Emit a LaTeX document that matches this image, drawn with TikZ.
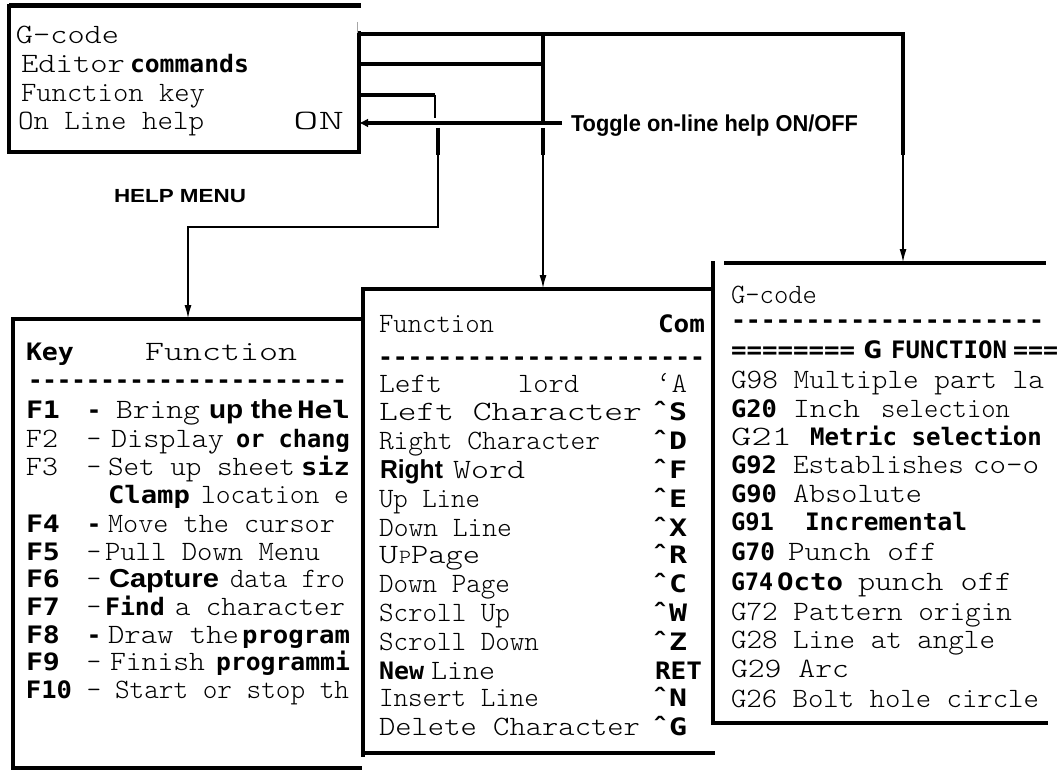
\documentclass[tikz,border=0pt]{standalone}
\usepackage{fontspec}
\usepackage{graphicx}
\usetikzlibrary{arrows.meta}
\newfontfamily\ltfam{lmmonolt10-regular.otf}
\newfontfamily\bmfam{DejaVu Sans Mono}
\newfontfamily\bsfam{Liberation Sans}
\newcommand\Ls{\ltfam\fontsize{28}{30}\selectfont}
\newcommand\Lsm{\ltfam\fontsize{20}{22}\selectfont}
\newcommand\Bm{\bmfam\bfseries\fontsize{24}{28}\selectfont}
\newcommand\Bs{\bsfam\bfseries\fontsize{26}{28}\selectfont}
\newcount\dcnt
\newcommand\dashes[1]{\dcnt=0 \loop\ifnum\dcnt<#1 -\kern0pt\advance\dcnt by 1 \repeat}
\newcommand\frag[5]{\node[t] (#1) at (#2,#3) {\resizebox{#4pt}{\height}{#5}};}
\newcommand\cmd{ˆ}
\tikzset{
  t/.style={anchor=base west, inner sep=0pt, outer sep=0pt},
  region/.style={anchor=north west, inner sep=0pt, outer sep=0pt, draw=none},
  edge/.style={line width=4pt, line cap=rect},
  conn/.style={line width=4.5pt},
  lead/.style={line width=2pt},
  arr/.style={-{Latex[length=14pt,width=7pt]}},
  arrL/.style={-{Latex[length=9pt,width=9pt]}},
}
\begin{document}
\begin{tikzpicture}[x=1pt,y=-1pt]
\useasboundingbox (0,0) rectangle (1059,770);
\fill[white] (0,0) rectangle (1059,770);

% ---------- boxes (regions) ----------
\node[region, minimum width=350pt, minimum height=146pt] (help) at (9,6) {};
\node[region, minimum width=349pt, minimum height=449pt] (keys) at (13,319) {};
\node[region, minimum width=350pt, minimum height=464pt] (edit) at (363,289) {};
\node[region, minimum width=333pt, minimum height=460pt] (gcode) at (713,263) {};

% help menu frame
\draw[line width=5pt] (help.north west) -- ([xshift=2pt]help.north east);
\draw[edge] (help.north west) -- (help.south west) -- (help.south east) -- (help.east |- 0,33);
\draw[gray!70, line width=1pt] (357,22) -- (357,33);

% key box frame
\draw[edge] (keys.north east) -- (keys.north west) -- (keys.south west |- 0,770);
\draw[edge] (keys.south west) -- ([xshift=-2pt]keys.south east);

% editor box frame
\draw[edge] (edit.north east) -- (edit.north west) -- ([yshift=-2pt]edit.south west);
\draw[edge] (edit.south west) -- (edit.south east);

% g-code box frame
\draw[line width=3.5pt] ([xshift=11pt]gcode.north west) -- (gcode.north east);
\draw[edge] (gcode.north west) -- (gcode.south west) -- (gcode.south east);

% ---------- connectors ----------
\coordinate (a1) at (903,34);
\coordinate (a2) at (903,155);
\draw[conn] (help.east |- a1) -- (a1) -- (a2);
\draw[lead, arr] (a2) -- (gcode.north -| a2);

\coordinate (b0) at (543,34);
\coordinate (bm) at (543,64);
\coordinate (b1) at (543,121);
\coordinate (b2) at (543,128);
\coordinate (b3) at (543,155);
\draw[conn] (help.east |- bm) -- (bm);
\draw[conn] (b0) -- (b1);
\draw[conn] (b2) -- (b3);
\draw[lead, arr] (b3) -- (edit.north -| b3);

\coordinate (c0) at (435,95);
\coordinate (c1) at (435,118);
\coordinate (c2) at (438,128);
\coordinate (c3) at (438,155);
\coordinate (c4) at (438,227);
\coordinate (c5) at (188,227);
\draw[conn] (help.east |- c0) -- (c0);
\draw[lead] (c0) -- (c1);
\draw[conn] (c2) -- (c3);
\draw[lead, arr] (c3) -- (c4) -- (c5) -- (keys.north -| c5);

\coordinate (d0) at (562,123);
\draw[conn, arrL] (d0) -- (help.east |- d0);

% ---------- help menu text ----------
\frag{hm1}{16}{44}{103}{\Ls G-code}
\frag{hm2a}{21}{73}{104}{\Ls Editor}
\frag{hm2b}{130}{73}{119}{\Bm commands}
\frag{hm3}{21}{102}{184}{\Ls Function key}
\frag{hm4}{18}{130}{186}{\Ls On Line help}
\frag{hm5}{293}{130}{51}{\Ls ON}
\frag{hmt}{114}{203}{132}{\bsfam\bfseries\fontsize{19}{20}\selectfont HELP MENU}
\frag{tog}{571}{132}{287}{\bsfam\bfseries\fontsize{23}{24}\selectfont Toggle on-line help ON/OFF}

% ---------- key box text ----------
\frag{kh1}{26}{360}{48}{\Bm Key}
\frag{kh2}{145}{360}{152}{\Ls Function}
\frag{kdash}{28}{388}{319}{\Bm\dashes{22}}
% keys
\frag{k1}{26}{418}{34}{\Bm F1}
\frag{k2}{26}{447}{32}{\Ls F2}
\frag{k3}{26}{475}{32}{\Ls F3}
\frag{k4}{26}{532}{34}{\Bm F4}
\frag{k5}{26}{560}{34}{\Bm F5}
\frag{k6}{26}{587}{34}{\Bm F6}
\frag{k7}{26}{615}{34}{\Bm F7}
\frag{k8}{26}{643}{34}{\Bm F8}
\frag{k9}{26}{670}{34}{\Bm F9}
\frag{k10}{26}{698}{46}{\Bm F10}
% dashes
\node[t, anchor=base] (kd1) at (94,418) {\Bm -};
\node[t, anchor=base] (kd2) at (94,447) {\Ls -};
\node[t, anchor=base] (kd3) at (94,475) {\Ls -};
\node[t, anchor=base] (kd4) at (94,532) {\Bm -};
\node[t, anchor=base] (kd5) at (94,560) {\Ls -};
\node[t, anchor=base] (kd6) at (94,587) {\Ls -};
\node[t, anchor=base] (kd7) at (94,615) {\Ls -};
\node[t, anchor=base] (kd8) at (94,643) {\Bm -};
\node[t, anchor=base] (kd9) at (94,670) {\Ls -};
\node[t, anchor=base] (kd10) at (94,698) {\Ls -};
% descriptions
\frag{f1a}{116}{418}{84}{\Ls Bring}
\frag{f1b}{209}{418}{84}{\Bs up the}
\frag{f1c}{297}{418}{53}{\Bm Hel}
\frag{f2a}{111}{447}{113}{\Ls Display}
\frag{f2b}{236}{447}{114}{\Bm or chang}
\frag{f3a}{108}{475}{187}{\Ls Set up sheet}
\frag{f3b}{301}{475}{49}{\Bm siz}
\frag{f3c}{108}{503}{82}{\Bm Clamp}
\frag{f3d}{201}{503}{148}{\Ls location e}
\frag{f4a}{108}{532}{227}{\Ls Move the cursor}
\frag{f5a}{105}{560}{215}{\Ls Pull Down Menu}
\frag{f6a}{109}{587}{110}{\Bs Capture}
\frag{f6b}{230}{587}{115}{\Ls data fro}
\frag{f7a}{105}{615}{60}{\Bm Find}
\frag{f7b}{175}{615}{170}{\Ls a character}
\frag{f8a}{108}{643}{131}{\Ls Draw the}
\frag{f8b}{242}{643}{108}{\Bm program}
\frag{f9a}{110}{670}{95}{\Ls Finish}
\frag{f9b}{216}{670}{134}{\Bm programmi}
\frag{f10a}{115}{698}{234}{\Ls Start or stop th}

% ---------- editor box text ----------
\frag{mh1}{379}{332}{115}{\Ls Function}
\frag{mh2}{658}{332}{47}{\Bm Com}
\frag{mdash}{378}{365}{327}{\Bm\dashes{22}}
\frag{e1a}{379}{392}{63}{\Ls Left}
\frag{e1b}{518}{392}{61}{\Ls lord}
\frag{e1c}{656}{392}{31}{\Ls ‘A}
\frag{e2a}{379}{420}{263}{\Ls Left Character}
\frag{e2c}{651}{420}{36}{\Bm\cmd S}
\frag{e3a}{379}{449}{221}{\Ls Right Character}
\frag{e3c}{651}{449}{36}{\Bm\cmd D}
\frag{e4a}{380}{478}{63}{\Bs Right}
\frag{e4b}{453}{478}{72}{\Ls Word}
\frag{e4c}{651}{478}{36}{\Bm\cmd F}
\frag{e5a}{379}{507}{101}{\Ls Up Line}
\frag{e5c}{651}{507}{36}{\Bm\cmd E}
\frag{e6a}{379}{536}{133}{\Ls Down Line}
\frag{e6c}{651}{536}{36}{\Bm\cmd X}
\frag{e7a}{379}{563}{19}{\Ls U}
\frag{e7b}{399}{563}{12}{\Lsm P}
\frag{e7d}{411}{563}{69}{\Ls Page}
\frag{e7c}{651}{563}{36}{\Bm\cmd R}
\frag{e8a}{379}{592}{131}{\Ls Down Page}
\frag{e8c}{651}{592}{36}{\Bm\cmd C}
\frag{e9a}{379}{621}{131}{\Ls Scroll Up}
\frag{e9c}{651}{621}{36}{\Bm\cmd W}
\frag{e10a}{379}{650}{160}{\Ls Scroll Down}
\frag{e10c}{651}{650}{36}{\Bm\cmd Z}
\frag{e11a}{379}{679}{45}{\Bm New}
\frag{e11b}{431}{679}{64}{\Ls Line}
\frag{e11c}{655}{679}{47}{\Bm RET}
\frag{e12a}{379}{706}{160}{\Ls Insert Line}
\frag{e12c}{651}{706}{36}{\Bm\cmd N}
\frag{e13a}{379}{735}{261}{\Ls Delete Character}
\frag{e13c}{651}{735}{36}{\Bm\cmd G}

% ---------- g-code box text ----------
\frag{gh1}{731}{303}{86}{\Ls G-code}
\frag{gdash}{731}{328}{313}{\Bm\dashes{21}}
\frag{gh2a}{731}{358}{124}{\Bm ========}
\frag{gh2b}{863}{358}{19}{\Bm G}
\frag{gh2c}{891}{358}{116}{\Bm FUNCTION}
\frag{gh2d}{1013}{358}{45}{\Bm ===}
\frag{g1}{731}{388}{313}{\Ls G98 Multiple part la}
\frag{g2a}{731}{417}{46}{\Bm G20}
\frag{g2b}{793}{417}{67}{\Ls Inch}
\frag{g2c}{881}{417}{129}{\Ls selection}
\frag{g3a}{731}{445}{61}{\Ls G21}
\frag{g3b}{810}{445}{232}{\Bm Metric selection}
\frag{g4a}{731}{473}{46}{\Bm G92}
\frag{g4b}{793}{473}{171}{\Ls Establishes}
\frag{g4c}{973}{473}{66}{\Ls co-o}
\frag{g5a}{731}{502}{46}{\Bm G90}
\frag{g5b}{793}{502}{129}{\Ls Absolute}
\frag{g6a}{731}{530}{43}{\Bm G91}
\frag{g6b}{805}{530}{162}{\Bm Incremental}
\frag{g7a}{731}{560}{44}{\Bm G70}
\frag{g7b}{788}{560}{149}{\Ls Punch off}
\frag{g8a}{731}{590}{42}{\Bm G74}
\frag{g8b}{777}{590}{66}{\Bm Octo}
\frag{g8c}{858}{590}{154}{\Ls punch off}
\frag{g9}{731}{620}{281}{\Ls G72 Pattern origin}
\frag{g10}{731}{648}{264}{\Ls G28 Line at angle}
\frag{g11}{731}{677}{118}{\Ls G29 Arc}
\frag{g12}{731}{707}{308}{\Ls G26 Bolt hole circle}
\end{tikzpicture}
\end{document}
